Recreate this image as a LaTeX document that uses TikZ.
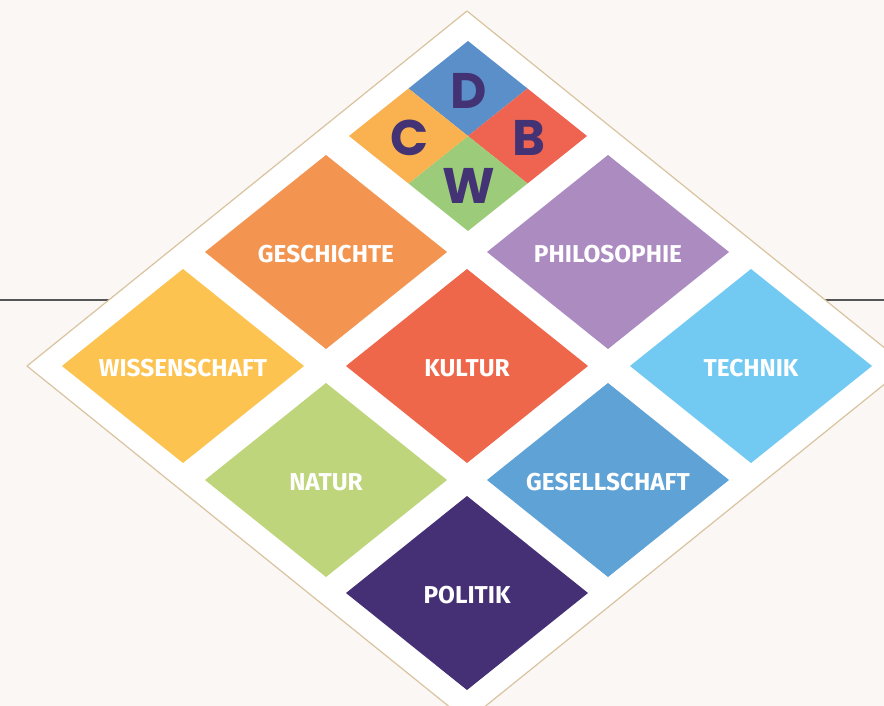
\documentclass[tikz,border=0pt]{standalone}
\usepackage{fontspec}
\setmainfont{Fira Sans}
\newfontfamily\logofont{Poppins}
\definecolor{hintergrund}{HTML}{FBF7F4}
\definecolor{rahmen}{HTML}{D9C3A0}
\definecolor{linie}{HTML}{555555}
\definecolor{dunkellila}{HTML}{433374}
\definecolor{kgeschichte}{HTML}{F39551}
\definecolor{kphilosophie}{HTML}{AC8BC1}
\definecolor{kwissenschaft}{HTML}{FCC350}
\definecolor{kkultur}{HTML}{EF674A}
\definecolor{ktechnik}{HTML}{72C9F2}
\definecolor{knatur}{HTML}{BED57C}
\definecolor{kgesellschaft}{HTML}{5FA2D6}
\definecolor{kpolitik}{HTML}{452F75}
\definecolor{qblau}{HTML}{5B8FC9}
\definecolor{qrot}{HTML}{EF6450}
\definecolor{qgruen}{HTML}{9CCC7A}
\definecolor{qorange}{HTML}{F9B24F}
\begin{document}
\begin{tikzpicture}[x=0.5pt,y=-0.5pt,line join=round,line cap=round]
	%%%% Kachel (Raute)
	\tikzset{kachel/.pic={
		\fill[#1] (-121,0) -- (0,-97) -- (121,0) -- (0,97) -- cycle;
	}}
	\tikzset{viertel/.pic={
		\fill[#1] (-59.5,0) -- (0,-47.5) -- (59.5,0) -- (0,47.5) -- cycle;
	}}
	\tikzset{beschrift/.style={text=white,inner sep=0pt,font=\bfseries\fontsize{12.2}{14}\selectfont},
		buchstabe/.style={text=dunkellila,inner sep=0pt,font=\logofont\bfseries\fontsize{25}{27}\selectfont}}
	%%%% Hintergrund
	\useasboundingbox (0,0) rectangle (884,706);
	\fill[hintergrund] (0,0) rectangle (884,706);
	\draw[linie,line width=0.8pt] (0,300) -- (884,300);
	%%%% grosse Raute
	\filldraw[fill=white,draw=rahmen,line width=0.6pt] (467,11) -- (907,366) -- (467,721) -- (27,366) -- cycle;
	%%%% Kacheln
	\foreach \x/\y/\farbe/\name/\wort in {326/252/kgeschichte/geschichte/GESCHICHTE,
		608/252/kphilosophie/philosophie/PHILOSOPHIE,
		183/366/kwissenschaft/wissenschaft/WISSENSCHAFT,
		467/366/kkultur/kultur/KULTUR,
		751/366/ktechnik/technik/TECHNIK,
		326/480/knatur/natur/NATUR,
		608/480/kgesellschaft/gesellschaft/GESELLSCHAFT,
		467/593/kpolitik/politik/POLITIK}{
		\path (\x,\y) pic{kachel=\farbe};
		\node[beschrift] (\name) at (\x,\y+2) {\wort};
	}
	%%%% Logo CDBW
	\foreach \dx/\dy/\farbe/\buchst in {0/-47.5/qblau/D,59.5/0/qrot/B,0/47.5/qgruen/W,-59.5/0/qorange/C}{
		\path (468+\dx,136+\dy) pic{viertel=\farbe};
		\node[buchstabe] (\buchst) at (469+\dx,138+\dy) {\buchst};
	}
\end{tikzpicture}
\end{document}
